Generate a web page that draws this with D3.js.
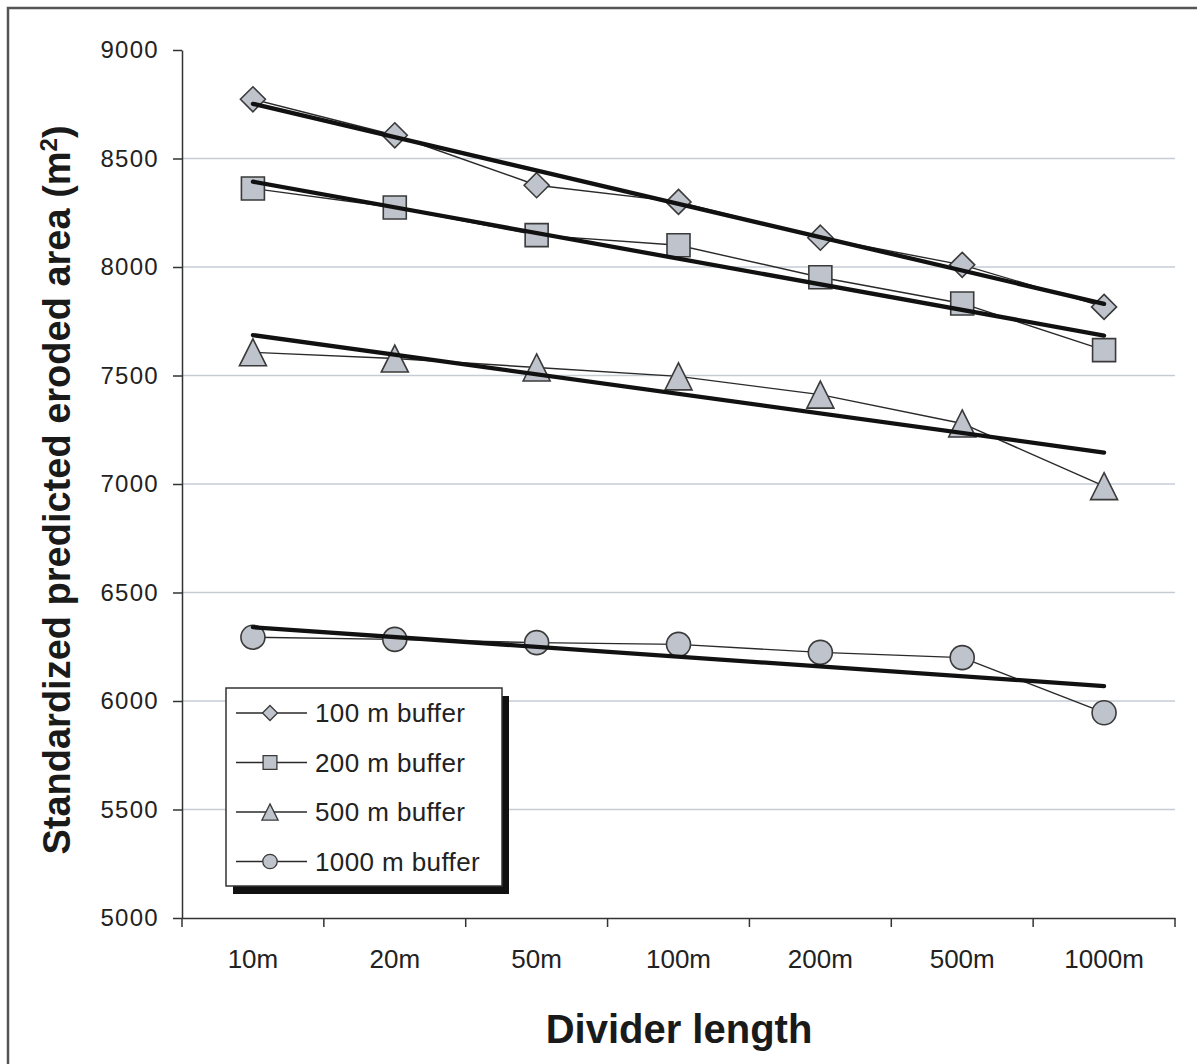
<!DOCTYPE html>
<html>
<head>
<meta charset="utf-8">
<script src="https://cdn.jsdelivr.net/npm/d3@7"></script>
<style>
  body { margin: 0; background: #fff; }
  svg { display: block; font-family: "Liberation Sans", Arial, sans-serif; }
</style>
</head>
<body>
<script>
// categories on the x axis
var categories = ["10m", "20m", "50m", "100m", "200m", "500m", "1000m"];

// series values
var buffer100 = [8773, 8607, 8377, 8300, 8135, 8010, 7816];
var buffer200 = [8362, 8274, 8147, 8100, 7953, 7832, 7617];
var buffer500 = [7607, 7578, 7537, 7496, 7412, 7279, 6990];
var buffer1000 = [6294, 6284, 6269, 6261, 6224, 6200, 5946];

// linear trend lines: value at 10m and at 1000m
var trend100 = [8752, 7830];
var trend200 = [8393, 7684];
var trend500 = [7686, 7145];
var trend1000 = [6340, 6069];

var seriesNames = ["100 m buffer", "200 m buffer", "500 m buffer", "1000 m buffer"];
var yTicks = [5000, 5500, 6000, 6500, 7000, 7500, 8000, 8500, 9000];

var series = [
  { name: seriesNames[0], values: buffer100, trend: trend100, shape: "diamond" },
  { name: seriesNames[1], values: buffer200, trend: trend200, shape: "square" },
  { name: seriesNames[2], values: buffer500, trend: trend500, shape: "triangle" },
  { name: seriesNames[3], values: buffer1000, trend: trend1000, shape: "circle" }
];

var W = 1197, H = 1064;
var plotLeft = 182, plotRight = 1175, plotTop = 50, plotBottom = 918;

var svg = d3.select("body").append("svg")
  .attr("width", W)
  .attr("height", H);

// outer frame (right and bottom edges fall outside the picture)
svg.append("rect")
  .attr("x", 8).attr("y", 8)
  .attr("width", 1260).attr("height", 1100)
  .attr("fill", "none")
  .attr("stroke", "#555")
  .attr("stroke-width", 2.5);

var x = d3.scaleBand()
  .domain(categories)
  .range([plotLeft, plotRight])
  .padding(0);

var y = d3.scaleLinear()
  .domain([5000, 9000])
  .range([plotBottom, plotTop]);

function cx(d, i) { return x(categories[i]) + x.bandwidth() / 2; }

// gridlines
svg.append("g")
  .selectAll("line")
  .data(yTicks.filter(function(t) { return t > 5000 && t < 9000; }))
  .enter()
  .append("line")
  .attr("x1", plotLeft).attr("x2", plotRight)
  .attr("y1", function(d) { return y(d); })
  .attr("y2", function(d) { return y(d); })
  .attr("stroke", "#c6ccd4")
  .attr("stroke-width", 1.5);

// y axis
var yAxis = svg.append("g")
  .attr("transform", "translate(" + plotLeft + ",0)")
  .call(d3.axisLeft(y).tickValues(yTicks).tickFormat(d3.format("d"))
    .tickSize(9).tickSizeOuter(0).tickPadding(14));
yAxis.selectAll("line, path").attr("stroke", "#333").attr("stroke-width", 1.5);
yAxis.selectAll("text")
  .style("font-size", "24px")
  .style("letter-spacing", "1.3px")
  .attr("fill", "#222");

// x axis (labels centred in bands, ticks on band edges)
var xAxis = svg.append("g")
  .attr("transform", "translate(0," + plotBottom + ")")
  .call(d3.axisBottom(x).tickSize(0).tickSizeOuter(0).tickPadding(32));
xAxis.select(".domain").attr("stroke", "#333").attr("stroke-width", 1.5);
xAxis.selectAll("text")
  .style("font-size", "26px")
  .attr("fill", "#222");

var edges = categories.map(function(c) { return x(c); }).concat([plotRight]);
svg.append("g")
  .selectAll("line")
  .data(edges)
  .enter()
  .append("line")
  .attr("x1", function(d) { return d; })
  .attr("x2", function(d) { return d; })
  .attr("y1", plotBottom).attr("y2", plotBottom + 9)
  .attr("stroke", "#333")
  .attr("stroke-width", 1.5);

// marker paths, centred on their bounding box
function markerPath(shape, s) {
  if (shape == "diamond")
    return "M0," + (-s) + "L" + s + ",0L0," + s + "L" + (-s) + ",0Z";
  if (shape == "square") {
    var q = s * 0.92;
    return "M" + (-q) + "," + (-q) + "H" + q + "V" + q + "H" + (-q) + "Z";
  }
  if (shape == "triangle") {
    var h = s * 1.08;
    return "M0," + (-h) + "L" + h + "," + h + "L" + (-h) + "," + h + "Z";
  }
  return d3.arc()({ innerRadius: 0, outerRadius: s * 0.96, startAngle: 0, endAngle: 2 * Math.PI });
}

var line = d3.line()
  .x(cx)
  .y(function(d) { return y(d); });

// thin data lines
svg.append("g")
  .selectAll("path")
  .data(series)
  .enter()
  .append("path")
  .attr("d", function(s) { return line(s.values); })
  .attr("fill", "none")
  .attr("stroke", "#2a2a2a")
  .attr("stroke-width", 1.4);

// markers
series.forEach(function(s) {
  svg.append("g")
    .selectAll("path")
    .data(s.values)
    .enter()
    .append("path")
    .attr("transform", function(d, i) { return "translate(" + cx(d, i) + "," + y(d) + ")"; })
    .attr("d", markerPath(s.shape, 12.5))
    .attr("fill", "#bfc4cc")
    .attr("stroke", "#3a3a3a")
    .attr("stroke-width", 1.6);
});

// trend lines on top
var x0 = x(categories[0]) + x.bandwidth() / 2;
var x1 = x(categories[categories.length - 1]) + x.bandwidth() / 2;
svg.append("g")
  .selectAll("line")
  .data(series)
  .enter()
  .append("line")
  .attr("x1", x0).attr("x2", x1)
  .attr("y1", function(s) { return y(s.trend[0]); })
  .attr("y2", function(s) { return y(s.trend[1]); })
  .attr("stroke", "#111")
  .attr("stroke-width", 4.3)
  .attr("stroke-linecap", "round");

// legend
var lg = svg.append("g").attr("transform", "translate(226,688)");
lg.append("rect")
  .attr("x", 7).attr("y", 8)
  .attr("width", 276).attr("height", 198)
  .attr("fill", "#111");
lg.append("rect")
  .attr("x", 0).attr("y", 0)
  .attr("width", 276).attr("height", 198)
  .attr("fill", "#fff")
  .attr("stroke", "#333")
  .attr("stroke-width", 1.5);

var rows = lg.selectAll("g.row")
  .data(series)
  .enter()
  .append("g")
  .attr("class", "row")
  .attr("transform", function(s, i) { return "translate(0," + (25 + i * 49.5) + ")"; });
rows.append("line")
  .attr("x1", 10).attr("x2", 81)
  .attr("stroke", "#2a2a2a")
  .attr("stroke-width", 1.4);
rows.append("path")
  .attr("transform", "translate(44,0)")
  .attr("d", function(s) { return markerPath(s.shape, 7.5); })
  .attr("fill", "#bfc4cc")
  .attr("stroke", "#3a3a3a")
  .attr("stroke-width", 1.3);
rows.append("text")
  .attr("x", 89)
  .attr("dy", "0.36em")
  .style("font-size", "26px")
  .style("letter-spacing", "0.4px")
  .attr("fill", "#222")
  .text(function(s) { return s.name; });

// axis titles
svg.append("text")
  .attr("x", 679)
  .attr("y", 1043)
  .attr("text-anchor", "middle")
  .style("font-size", "40px")
  .style("font-weight", "bold")
  .attr("fill", "#1a1a1a")
  .text("Divider length");

var yt = svg.append("text")
  .attr("transform", "translate(70,490) rotate(-90)")
  .attr("text-anchor", "middle")
  .style("font-size", "38px")
  .style("font-weight", "bold")
  .attr("fill", "#1a1a1a");
yt.append("tspan").text("Standardized predicted eroded area (m");
yt.append("tspan").attr("baseline-shift", "super").style("font-size", "24px").text("2");
yt.append("tspan").text(")");
</script>
</body>
</html>
